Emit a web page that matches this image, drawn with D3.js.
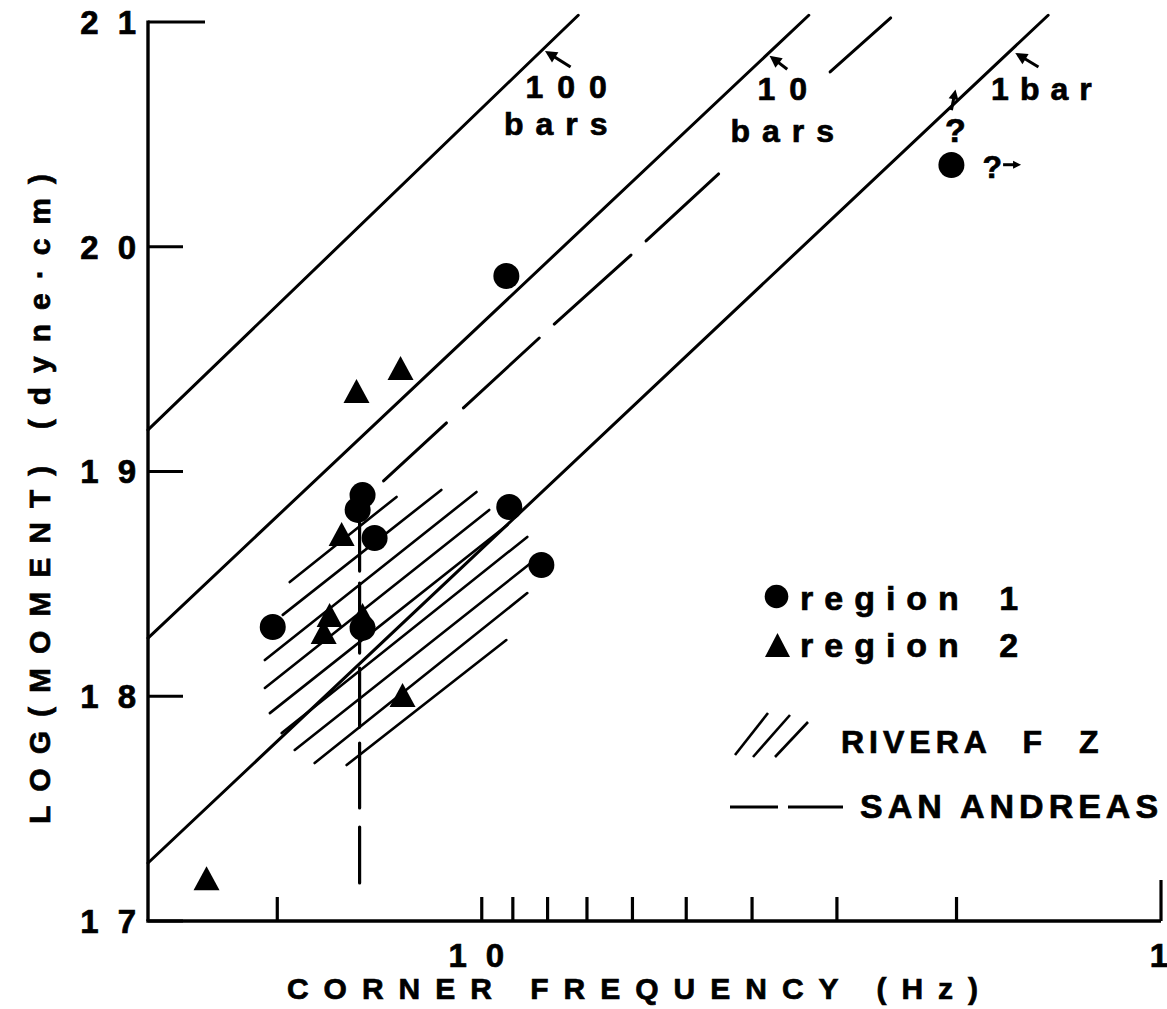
<!DOCTYPE html>
<html><head><meta charset="utf-8">
<script src="https://cdn.jsdelivr.net/npm/d3@7"></script>
<style>
html,body{margin:0;padding:0;background:#fff;}
svg{display:block;}
text{font-family:"Liberation Sans",Arial,Helvetica,sans-serif;font-weight:bold;fill:#000;stroke:#000;stroke-width:0.7px;}
</style>
</head><body>
<script>
// ---------------- data ----------------
const xTickValues = [20, 10, 9, 8, 7, 6, 5, 4, 3, 2, 1];
const xTickLabels = ["", "10", "", "", "", "", "", "", "", "", "1"];
const yTickValues = [17, 18, 19, 20, 21];
const yTickLabels = ["17", "18", "19", "20", "21"];

// region 1 (circles): corner frequency (Hz), log moment (dyne-cm)
const region1Freq   = [20.31, 15.23, 14.98, 14.38, 14.98, 9.11, 8.17, 9.20, 2.035];
const region1LogM   = [18.308, 18.829, 18.895, 18.704, 18.304, 18.842, 18.584, 19.870, 20.364];
// region 2 (triangles)
const region2Freq   = [25.42, 17.09, 16.75, 16.08, 15.29, 13.17, 14.98, 13.08];
const region2LogM   = [17.19, 18.286, 18.362, 18.722, 19.358, 19.461, 18.362, 18.006];

// constant stress-drop lines
const stressLabels    = ["100 bars", "10 bars", "1bar"];
const stressStartFreq = [31, 31, 31];
const stressStartLogM = [19.185, 18.259, 17.258];
const stressEndFreq   = [7.21, 3.30, 1.466];
const stressEndLogM   = [21.03, 21.03, 21.03];

// San Andreas trend (dashed), segments [from, to]
const sanAndreasFreq = [[13.95, 11.27], [10.64, 8.23], [7.82, 6.03], [5.73, 4.48], [3.07, 2.50]];
const sanAndreasLogM = [[18.958, 19.216], [19.283, 19.594], [19.656, 19.963], [20.026, 20.324], [20.778, 21.018]];

// Rivera F Z hatched field, hatch strokes [from, to]
const riveraFreq = [[19.17, 13.35], [19.63, 11.47], [20.86, 10.18], [20.86, 9.75], [20.51, 9.17],
                    [19.70, 8.57], [18.85, 8.43], [17.62, 8.57], [15.81, 9.20]];
const riveraLogM = [[18.508, 18.887], [18.362, 18.918], [18.161, 18.909], [18.037, 18.829], [17.925, 18.762],
                    [17.836, 18.709], [17.761, 18.597], [17.703, 18.459], [17.694, 18.250]];

// vertical dashed cutoff
const cutoffFreq = 15.13;
const cutoffLogM = [[18.78, 18.557], [18.504, 18.192], [18.125, 17.863], [17.792, 17.503], [17.418, 17.169]];

// ---------------- drawing ----------------
const W = 1167, H = 1009;
const svg = d3.select("body").append("svg").attr("width", W).attr("height", H);
svg.append("rect").attr("width", W).attr("height", H).attr("fill", "#fff");

const x = d3.scaleLog().domain([31, 1]).range([148, 1161]);
const y = d3.scaleLinear().domain([17, 21]).range([921, 22]);
const x0 = x.range()[0], x1 = x.range()[1], yb = y(17), yt = y(21);

const g = svg.append("g");

function seg(f1, m1, f2, m2, w) {
  g.append("line")
    .attr("x1", x(f1)).attr("y1", y(m1)).attr("x2", x(f2)).attr("y2", y(m2))
    .attr("stroke", "#000").attr("stroke-width", w).attr("stroke-linecap", "round");
}

// stress lines
stressLabels.forEach((s, i) => seg(stressStartFreq[i], stressStartLogM[i], stressEndFreq[i], stressEndLogM[i], 3));
// San Andreas dashes
sanAndreasFreq.forEach((f, i) => seg(f[0], sanAndreasLogM[i][0], f[1], sanAndreasLogM[i][1], 3));
// Rivera hatch
riveraFreq.forEach((f, i) => seg(f[0], riveraLogM[i][0], f[1], riveraLogM[i][1], 2.6));
// vertical cutoff
cutoffLogM.forEach(s => seg(cutoffFreq, s[0], cutoffFreq, s[1], 3.2));

// axes
g.append("line").attr("x1", x0).attr("x2", x0).attr("y1", yt - 1.5).attr("y2", yb)
  .attr("stroke", "#000").attr("stroke-width", 3.4);
g.append("line").attr("x1", x0 - 1.7).attr("x2", x1).attr("y1", yb).attr("y2", yb)
  .attr("stroke", "#000").attr("stroke-width", 3.4);

const tickLS = 19;
yTickValues.forEach((v, i) => {
  const len = v === 21 ? 57 : 35;
  g.append("line").attr("x1", x0).attr("x2", x0 + len).attr("y1", y(v)).attr("y2", y(v))
    .attr("stroke", "#000").attr("stroke-width", 3.2);
  g.append("text").attr("x", 136 + tickLS).attr("y", y(v)).attr("dy", "0.36em")
    .attr("text-anchor", "end").attr("font-size", 33).attr("letter-spacing", tickLS)
    .text(yTickLabels[i]);
});
xTickValues.forEach((v, i) => {
  const len = v === 1 ? 41 : 24;
  g.append("line").attr("x1", x(v)).attr("x2", x(v)).attr("y1", yb).attr("y2", yb - len)
    .attr("stroke", "#000").attr("stroke-width", 3.2);
  if (xTickLabels[i]) {
    g.append("text").attr("x", x(v)).attr("dx", v === 1 ? -2 : 4).attr("y", 967)
      .attr("text-anchor", "middle").attr("font-size", 33).attr("letter-spacing", v === 1 ? 0 : tickLS)
      .text(xTickLabels[i]);
  }
});

// axis titles
g.append("text").attr("x", 633).attr("dx", 7).attr("y", 999).attr("text-anchor", "middle")
  .attr("font-size", 30).attr("letter-spacing", 15).text("CORNER FREQUENCY (Hz)");
g.append("text").attr("transform", "translate(50,499) rotate(-90)").attr("dx", 7)
  .attr("text-anchor", "middle").attr("font-size", 30).attr("letter-spacing", 14)
  .text("LOG(MOMENT) (dyne\u00B7cm)");

// markers
const triPath = (w, h) => `M${-w/2},${h/2}L${w/2},${h/2}L0,${-h/2}Z`;
region1Freq.forEach((f, i) => {
  g.append("circle").attr("cx", x(f)).attr("cy", y(region1LogM[i])).attr("r", 13).attr("fill", "#000");
});
region2Freq.forEach((f, i) => {
  g.append("path").attr("d", triPath(26, 24))
    .attr("transform", `translate(${x(f)},${y(region2LogM[i])})`).attr("fill", "#000");
});

// arrow helper
function arrow(fx1, my1, fx2, my2, L = 12, Wd = 6) {
  const ax = x(fx1), ay = y(my1), bx = x(fx2), by = y(my2);
  const ang = Math.atan2(by - ay, bx - ax);
  g.append("line").attr("x1", ax).attr("y1", ay).attr("x2", bx - 4*Math.cos(ang)).attr("y2", by - 4*Math.sin(ang))
    .attr("stroke", "#000").attr("stroke-width", 3);
  const p1 = [bx - L*Math.cos(ang) + Wd*Math.sin(ang), by - L*Math.sin(ang) - Wd*Math.cos(ang)];
  const p2 = [bx - L*Math.cos(ang) - Wd*Math.sin(ang), by - L*Math.sin(ang) + Wd*Math.cos(ang)];
  g.append("path").attr("d", `M${bx},${by}L${p1}L${p2}Z`).attr("fill", "#000");
}

// stress labels
const annLS = 12;
g.append("text").attr("x", x(7.51)).attr("dx", 7).attr("y", y(20.662)).attr("text-anchor", "middle")
  .attr("font-size", 32).attr("letter-spacing", 14).text("100");
g.append("text").attr("x", x(7.78)).attr("dx", annLS/2).attr("y", y(20.497)).attr("text-anchor", "middle")
  .attr("font-size", 32).attr("letter-spacing", annLS).text("bars");
arrow(7.40, 20.80, 8.07, 20.871);
g.append("text").attr("x", x(3.61)).attr("dx", 7).attr("y", y(20.653)).attr("text-anchor", "middle")
  .attr("font-size", 32).attr("letter-spacing", 14).text("10");
g.append("text").attr("x", x(3.61)).attr("dx", annLS/2).attr("y", y(20.466)).attr("text-anchor", "middle")
  .attr("font-size", 32).attr("letter-spacing", annLS).text("bars");
arrow(3.55, 20.79, 3.77, 20.850);
g.append("text").attr("x", x(1.50)).attr("dx", 5.5).attr("y", y(20.653)).attr("text-anchor", "middle")
  .attr("font-size", 32).attr("letter-spacing", 11).text("1bar");
arrow(1.515, 20.80, 1.639, 20.862);

// question marks near upper-right point
arrow(2.035, 20.608, 2.007, 20.70, 10, 5);
g.append("text").attr("x", x(2.007)).attr("y", y(20.466)).attr("text-anchor", "middle")
  .attr("font-size", 34).text("?");
g.append("text").attr("x", x(1.832)).attr("y", y(20.306)).attr("text-anchor", "start")
  .attr("font-size", 32).text("?");
arrow(1.708, 20.365, 1.607, 20.365, 8, 4);

// legend
const lg = svg.append("g");
lg.append("circle").attr("cx", 776.5).attr("cy", 596.5).attr("r", 11.8).attr("fill", "#000");
lg.append("text").attr("x", 800).attr("y", 610).attr("font-size", 34).attr("letter-spacing", 11)
  .attr("word-spacing", 9).text("region 1");
lg.append("path").attr("d", triPath(25, 24)).attr("transform", "translate(777.5,645)").attr("fill", "#000");
lg.append("text").attr("x", 800).attr("y", 657).attr("font-size", 34).attr("letter-spacing", 11)
  .attr("word-spacing", 9).text("region 2");

[[735, 755, 768, 713], [753, 757, 790, 715], [775, 757, 808, 722]].forEach(s => {
  lg.append("line").attr("x1", s[0]).attr("y1", s[1]).attr("x2", s[2]).attr("y2", s[3])
    .attr("stroke", "#000").attr("stroke-width", 2.6);
});
lg.append("text").attr("x", 841).attr("y", 753).attr("font-size", 32).attr("letter-spacing", 5)
  .attr("word-spacing", 18).text("RIVERA F Z");

[[730, 778], [788, 843]].forEach(s => {
  lg.append("line").attr("x1", s[0]).attr("x2", s[1]).attr("y1", 807).attr("y2", 807)
    .attr("stroke", "#000").attr("stroke-width", 3.2);
});
lg.append("text").attr("x", 860).attr("y", 818).attr("font-size", 34).attr("letter-spacing", 5)
  .text("SAN ANDREAS");
</script>
</body></html>
